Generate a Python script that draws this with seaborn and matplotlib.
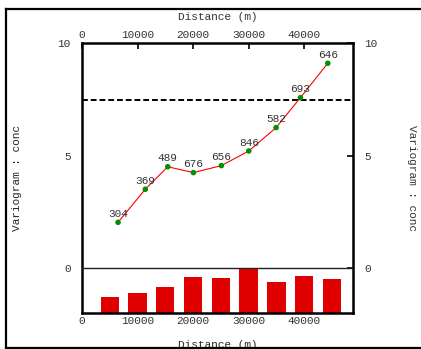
import numpy as np
import pandas as pd
import matplotlib
matplotlib.use("Agg")
import matplotlib.pyplot as plt
from matplotlib.lines import Line2D
import seaborn as sns

# Experimental variogram: lag distance, semivariance and pair counts per lag
lag_dist = [6490, 11400, 15440, 20060, 25100, 30030, 34950, 39330, 44260]
gamma = [2.03, 3.50, 4.50, 4.24, 4.55, 5.20, 6.24, 7.57, 9.10]
n_pairs = [304, 369, 489, 676, 656, 846, 582, 693, 646]
# Pair-count histogram bins (centres)
bin_centers = [5000, 10000, 15000, 20000, 25000, 30000, 35000, 40000, 45000]
sill = 7.47
x_ticks = [0, 10000, 20000, 30000, 40000]
y_ticks = [0, 5, 10]

sns.set_theme(style="white")
plt.rcParams["font.family"] = ["Liberation Mono", "DejaVu Sans Mono"]
plt.rcParams["text.color"] = "#333333"
plt.rcParams["xtick.color"] = "#000000"
plt.rcParams["ytick.color"] = "#000000"
plt.rcParams["xtick.labelcolor"] = "#333333"
plt.rcParams["ytick.labelcolor"] = "#333333"

W, H = 421, 349
fig = plt.figure(figsize=(W / 100, H / 100), dpi=100)
ax = fig.add_axes([82 / W, (H - 313) / H, (353 - 82) / W, (313 - 43) / H])

df = pd.DataFrame({"lag": lag_dist, "gamma": gamma, "pairs": n_pairs})

# Pair-count histogram scaled into the band below zero
hist_base = -2.0
hist_height = 2.0
bar_h = np.array(n_pairs) / max(n_pairs) * hist_height
ax.bar(bin_centers, bar_h, width=3300, bottom=hist_base, color="#e00000",
       edgecolor="none", zorder=2)

# Zero line and sill
ax.axhline(0, color="#222222", linewidth=1.0, zorder=3)
ax.axhline(sill, color="black", linewidth=1.4, linestyle=(0, (3, 1.5)), zorder=3)

sns.lineplot(data=df, x="lag", y="gamma", ax=ax, color="#ff0000",
             linewidth=0.8, sort=False, zorder=4)
sns.scatterplot(data=df, x="lag", y="gamma", ax=ax, color="#009000",
                s=16, edgecolor="none", zorder=5)

for x, y, n in zip(lag_dist, gamma, n_pairs):
    ax.annotate(str(n), (x, y), xytext=(0, 2.5), textcoords="offset points",
                ha="center", va="bottom", fontsize=8, color="#333333", zorder=6)

ax.set_xlim(0, 48800)
ax.set_ylim(-2, 10)
ax.set_xticks(x_ticks)
ax.set_yticks(y_ticks)
ax.tick_params(axis="x", direction="in", length=4, width=1.2, labelsize=8,
               pad=2, top=True, labeltop=True)
ax.tick_params(axis="y", direction="in", length=4, width=1.2, labelsize=8,
               pad=8, right=True, labelright=True)

for sp in ax.spines.values():
    sp.set_visible(True)
    sp.set_linewidth(1.8)
    sp.set_color("black")

ax.set_xlabel("Distance (m)", fontsize=8)
ax.xaxis.set_label_coords(0.5, (313 - 340) / 270, transform=ax.transAxes)
ax.set_ylabel("Variogram : conc", fontsize=8)
ax.yaxis.set_label_coords((22 - 82) / 271, 0.5)

# Labels on the top and right edges
ax.text(0.5, (313 - 17) / 270, "Distance (m)", transform=ax.transAxes,
        ha="center", va="center", fontsize=8)
ax.text((412 - 82) / 271, 0.5, "Variogram : conc", transform=ax.transAxes,
        ha="center", va="center", rotation=270, fontsize=8)

# Outer frame: top, left and bottom edges (open on the right)
x_left = 6 / W
y_top = (H - 9) / H
y_bot = (H - 347.5) / H
for xs, ys in [([x_left, 1.0], [y_top, y_top]),
               ([x_left, x_left], [y_bot, y_top]),
               ([x_left, 1.0], [y_bot, y_bot])]:
    fig.add_artist(Line2D(xs, ys, transform=fig.transFigure, color="black",
                          linewidth=1.6, solid_capstyle="projecting"))

fig.savefig("out.png", dpi=100)
